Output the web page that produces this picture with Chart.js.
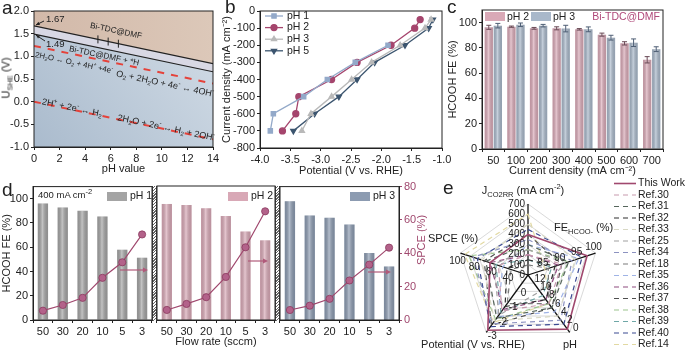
<!DOCTYPE html>
<html>
<head>
<meta charset="utf-8">
<script src="https://cdn.jsdelivr.net/npm/chart.js@4.4.1/dist/chart.umd.min.js"></script>
<style>
  body { margin: 0; width: 685px; height: 352px; position: relative; overflow: hidden; background: #fff;
         font-family: 'Liberation Sans', Arial, sans-serif; color: #222; }
  canvas { position: absolute; }
  .t { position: absolute; white-space: nowrap; font-size: 11px; line-height: 1; }
  .rot { transform: translate(-50%, -50%) rotate(-90deg); }
  .ctr { transform: translate(-50%, -50%); }
  .letter { position: absolute; font-size: 19px; line-height: 19px; }
  .hatch { position: absolute; box-sizing: border-box; border-left: 1px solid #333; border-right: 1px solid #333;
           background: repeating-linear-gradient(135deg, #fff 0 1px, #666 1px 2px); }
  sub, sup { font-size: 7.5px; line-height: 0; }
</style>
</head>
<body>
<canvas id="cA" width="225" height="178" style="left:0;top:0"></canvas>
<canvas id="cB" width="235" height="178" style="left:220px;top:0"></canvas>
<canvas id="cC" width="239" height="178" style="left:446px;top:0"></canvas>
<canvas id="cD1" width="157" height="174" style="left:0;top:178px"></canvas>
<canvas id="cD2" width="128" height="174" style="left:152px;top:178px"></canvas>
<canvas id="cD3" width="160" height="174" style="left:275px;top:178px"></canvas>
<canvas id="cE" width="270" height="176" style="left:415px;top:176px"></canvas>

<div class="hatch" style="left:152px;top:186px;width:5px;height:135px"></div>
<div class="hatch" style="left:275px;top:186px;width:5px;height:135px"></div>

<div class="letter" style="left:2px;top:-2px">a</div>
<div class="letter" style="left:225px;top:-3px">b</div>
<div class="letter" style="left:447px;top:-3px">c</div>
<div class="letter" style="left:2px;top:180px">d</div>
<div class="letter" style="left:443px;top:178px">e</div>

<div class="t rot" style="left:6px;top:78px">U<sub>SHE</sub> (V)</div>
<div class="t rot" style="left:421px;top:240px;color:#a0486e">SPCE (%)</div>
<div class="t" style="left:38px;top:190px;font-size:9.5px">400 mA cm<sup>-2</sup></div>

<div class="t ctr" style="left:523px;top:190px">J<sub>CO2RR</sub> (mA cm<sup>-2</sup>)</div>
<div class="t" style="left:554px;top:222px">FE<sub>HCOO-</sub> (%)</div>
<div class="t ctr" style="left:453px;top:238px">SPCE (%)</div>
<div class="t ctr" style="left:473px;top:344px">Potential (V vs. RHE)</div>
<div class="t ctr" style="left:570px;top:344px">pH</div>

<script>
// ---- panel a : Pourbaix lines (value at pH 0 and pH 14)
const phEnds = [0, 14];
const bareLine = [1.67, 0.84];
const hLine = [1.49, 0.66];
const oerLine = [1.23, 0.40];
const herLine = [0.00, -0.83];
const markPH = [5.0, 5.8, 6.6];

// ---- panel b : polarization curves
const jVals = [-700, -600, -500, -400, -300, -200, -100, -50];
const vPH1 = [-3.83, -3.78, -3.28, -2.89, -2.43, -1.89];
const vPH2 = [-3.63, -3.41, -3.36, -2.82, -2.40, -1.84, -1.45, -1.36];
const vPH3 = [-3.31, -3.16, -2.82, -2.49, -2.16, -1.69, -1.28, -1.18];
const vPH5 = [-3.45, -3.10, -2.70, -2.40, -2.11, -1.61, -1.22, -1.15];

// ---- panel c : FE vs current density
const jCats = ['50', '100', '200', '300', '400', '500', '600', '700'];
const fePH2 = [96.3, 96.8, 95.5, 95.5, 94.7, 90.5, 83.6, 70.6];
const fePH3 = [97.6, 98.3, 97.6, 95.3, 94.7, 88.1, 84.1, 79.0];
const errPH2 = [1.6, 0.5, 0.7, 1.2, 0.6, 1.2, 1.3, 2.5];
const errPH3 = [1.8, 1.4, 1.0, 2.6, 1.9, 1.9, 3.0, 1.9];

// ---- panel d : flow rate series
const flowRates = ['50', '30', '20', '10', '5', '3'];
const feFlow1 = [96.1, 92.8, 90.0, 85.4, 58.0, 51.4];
const feFlow2 = [95.3, 94.4, 91.7, 85.3, 72.6, 65.4];
const feFlow3 = [98.0, 86.2, 84.3, 78.7, 55.2, 44.2];
const spce1 = [5.6, 9.0, 13.3, 25.3, 34.6, 51.3];
const spce2 = [6.0, 9.6, 13.6, 25.7, 43.4, 64.9];
const spce3 = [6.0, 8.6, 12.7, 23.7, 33.2, 43.4];

// ---- panel e : radar (first entry = This Work)
const refNames = ['This Work', 'Ref.30', 'Ref.31', 'Ref.32', 'Ref.33', 'Ref.25', 'Ref.34', 'Ref.18',
                  'Ref.35', 'Ref.36', 'Ref.37', 'Ref.38', 'Ref.39', 'Ref.40', 'Ref.14'];
const refJ = [400, 200, 300, 150, 500, 250, 350, 100, 300, 200, 400, 250, 150, 450, 600];
const refFE = [97.5, 90, 92, 88, 94, 91, 93, 86, 95, 89, 90, 92, 87, 96, 85];
const refPH = [0.8, 7, 6, 8, 4, 10, 3, 7, 5, 8, 6, 7, 9, 2, 7];
const refE = [-2.85, -1.5, -2.0, -1.2, -2.2, -1.8, -2.4, -1.0, -1.9, -1.4, -2.5, -2.1, -1.6, -2.6, -2.3];
const refSPCE = [65, 55, 70, 45, 75, 60, 85, 40, 50, 65, 72, 90, 58, 80, 95];
const jTicks = [0, 100, 200, 300, 400, 500, 600, 700];
const feTicks = [85, 90, 95, 100];
const phTicks = [0, 2, 4, 6, 8, 10, 12];
const eTicks = [-3, -2, -1, 0];
const spceTicks = [100, 80, 60, 40];

const refColors = ['#a0486e', '#c89aae', '#56665c', '#2e2e2e', '#d8d8c4', '#a0a0a0', '#8c92c0', '#7a7a7a',
                   '#9fb3e6', '#8e4a7e', '#4e4e4e', '#9cc48e', '#6fa7a7', '#3b4a92', '#e2d9a2'];

Chart.defaults.font.family = "'Liberation Sans', Arial, sans-serif";
Chart.defaults.font.size = 11;
Chart.defaults.color = '#222';
Chart.defaults.animation = false;
Chart.defaults.plugins.legend.display = false;
Chart.defaults.plugins.tooltip.enabled = false;

const FONT = "'Liberation Sans', Arial, sans-serif";

// box around plot area
const framePlugin = {
  id: 'frame',
  afterDraw(chart) {
    const a = chart.chartArea, ctx = chart.ctx;
    ctx.save();
    ctx.strokeStyle = '#222';
    ctx.lineWidth = 1;
    ctx.strokeRect(a.left, a.top, a.right - a.left, a.bottom - a.top);
    ctx.restore();
  }
};

// cylinder-like shading on bars
const barShade = {
  id: 'barShade',
  afterDatasetDraw(chart, args) {
    if (args.meta.type !== 'bar') return;
    const ctx = chart.ctx;
    args.meta.data.forEach(b => {
      const l = b.x - b.width / 2, w = b.width;
      const g = ctx.createLinearGradient(l, 0, l + w, 0);
      g.addColorStop(0, 'rgba(0,0,0,0.10)');
      g.addColorStop(0.45, 'rgba(255,255,255,0.35)');
      g.addColorStop(1, 'rgba(0,0,0,0.12)');
      ctx.fillStyle = g;
      ctx.fillRect(l, b.y, w, b.base - b.y);
    });
  }
};

function axisX(extra) {
  return Object.assign({
    border: { color: '#222', width: 1 },
    grid: { drawOnChartArea: false, color: '#222', tickLength: 3 },
    ticks: { padding: 2, maxRotation: 0, autoSkip: false }
  }, extra);
}

function pts(xs, ys) {
  return xs.map((v, i) => ({ x: v, y: ys[i] }));
}

// text with _x subscripts and ^x superscripts, centred and rotated
function drawRich(ctx, str, cx, cy, ang, size) {
  const segs = [];
  for (let i = 0; i < str.length; i++) {
    const ch = str[i];
    if ((ch === '_' || ch === '^') && i + 1 < str.length) {
      segs.push({ t: str[i + 1], m: ch });
      i++;
    } else {
      segs.push({ t: ch, m: '' });
    }
  }
  const small = size * 0.68;
  let w = 0;
  segs.forEach(s => {
    ctx.font = (s.m ? small : size) + 'px ' + FONT;
    s.w = ctx.measureText(s.t).width;
    w += s.w;
  });
  ctx.save();
  ctx.translate(cx, cy);
  ctx.rotate(ang);
  ctx.textAlign = 'left';
  ctx.textBaseline = 'middle';
  let x = -w / 2;
  segs.forEach(s => {
    ctx.font = (s.m ? small : size) + 'px ' + FONT;
    const dy = s.m === '_' ? size * 0.3 : s.m === '^' ? -size * 0.35 : 0;
    ctx.fillText(s.t, x, dy);
    x += s.w;
  });
  ctx.restore();
}

// ================= panel a
const annA = {
  id: 'annA',
  beforeDatasetsDraw(chart) {
    const a = chart.chartArea, ctx = chart.ctx;
    const g = ctx.createLinearGradient(a.right, a.top, a.left, a.bottom);
    g.addColorStop(0, '#d3dde7');
    g.addColorStop(1, '#aabbcd');
    ctx.save();
    ctx.fillStyle = g;
    ctx.fillRect(a.left, a.top, a.right - a.left, a.bottom - a.top);
    ctx.restore();
  },
  afterDatasetsDraw(chart) {
    const ctx = chart.ctx, x = chart.scales.x, y = chart.scales.y;
    const ang = Math.atan2(y.getPixelForValue(bareLine[1]) - y.getPixelForValue(bareLine[0]),
                           x.getPixelForValue(phEnds[1]) - x.getPixelForValue(phEnds[0]));
    ctx.save();
    ctx.fillStyle = '#222';
    ctx.strokeStyle = '#222';
    drawRich(ctx, 'Bi-TDC@DMF', 116, 31, ang, 8.2);
    drawRich(ctx, 'Bi-TDC@DMF + *H', 104, 56, ang, 8.2);
    drawRich(ctx, '2H_2O \u2194 O_2 + 4H^+ +4e^-', 74, 63, ang, 7.8);
    drawRich(ctx, 'O_2 + 2H_2O + 4e^- \u2194 4OH^-', 165, 84, ang, 9);
    drawRich(ctx, '2H^+ + 2e^- \u2194 H_2', 72, 108, ang, 9);
    drawRich(ctx, '2H_2O + 2e^- \u2194 H_2 + 2OH^-', 166, 128, ang, 9);
    // small marks on the upper line
    ctx.lineWidth = 1;
    markPH.forEach(p => {
      const f = (p - phEnds[0]) / (phEnds[1] - phEnds[0]);
      const px = x.getPixelForValue(p);
      const py = y.getPixelForValue(bareLine[0] + f * (bareLine[1] - bareLine[0]));
      ctx.beginPath(); ctx.moveTo(px, py - 4); ctx.lineTo(px, py + 4); ctx.stroke();
    });
    // value labels with arrows
    ctx.font = '9.5px ' + FONT;
    ctx.textAlign = 'left';
    ctx.textBaseline = 'middle';
    ctx.fillText('1.67', 46, 19);
    ctx.fillText('1.49', 46, 44);
    const arrow = (x0, y0, x1, y1) => {
      ctx.beginPath(); ctx.moveTo(x0, y0); ctx.lineTo(x1, y1); ctx.stroke();
      const t = Math.atan2(y1 - y0, x1 - x0);
      ctx.beginPath();
      ctx.moveTo(x1, y1);
      ctx.lineTo(x1 - 4 * Math.cos(t - 0.45), y1 - 4 * Math.sin(t - 0.45));
      ctx.lineTo(x1 - 4 * Math.cos(t + 0.45), y1 - 4 * Math.sin(t + 0.45));
      ctx.closePath(); ctx.fill();
    };
    arrow(44, 21, 36, y.getPixelForValue(bareLine[0]) - 1);
    arrow(45, 41, 36, y.getPixelForValue(hLine[0]) + 1);
    ctx.restore();
  }
};

new Chart(document.getElementById('cA'), {
  type: 'line',
  data: {
    datasets: [
      { data: pts(phEnds, bareLine), borderColor: '#222', borderWidth: 1.2, fill: 'end',
        backgroundColor: (c) => {
          const a = c.chart.chartArea;
          if (!a) return '#d8c2b2';
          const g = c.chart.ctx.createLinearGradient(a.left, 0, a.right, 0);
          g.addColorStop(0, '#d2b9a9');
          g.addColorStop(1, '#dcc8b9');
          return g;
        } },
      { data: pts(phEnds, hLine), borderColor: '#222', borderWidth: 1.2, fill: '-1', backgroundColor: '#d8d8e4' },
      { data: pts(phEnds, oerLine), borderColor: '#e5423a', borderWidth: 2, borderDash: [7, 7], fill: false },
      { data: pts(phEnds, herLine), borderColor: '#e5423a', borderWidth: 2, borderDash: [7, 7], fill: false }
    ]
  },
  options: {
    responsive: false,
    layout: { padding: { top: 11, right: 12 } },
    elements: { point: { radius: 0 }, line: { tension: 0 } },
    scales: {
      x: axisX({ type: 'linear', min: 0, max: 14, ticks: { stepSize: 2, padding: 2 },
        title: { display: true, text: 'pH value', padding: { top: 0, bottom: 2 } },
        afterFit: s => { s.height = 31; } }),
      y: axisX({ min: -1, max: 2, ticks: { stepSize: 0.5, padding: 2, callback: v => v.toFixed(1) },
        afterFit: s => { s.width = 34; } })
    }
  },
  plugins: [annA, framePlugin]
});

// ================= panel b
const legendB = {
  id: 'legendB',
  afterDraw(chart) {
    const ctx = chart.ctx;
    chart.data.datasets.forEach((ds, i) => {
      const y = 16 + i * 11.6, x0 = 45, x1 = 63;
      ctx.save();
      ctx.strokeStyle = ds.borderColor;
      ctx.lineWidth = ds.borderWidth;
      ctx.beginPath(); ctx.moveTo(x0, y); ctx.lineTo(x1, y); ctx.stroke();
      ctx.fillStyle = ds.pointBackgroundColor;
      Chart.helpers.drawPoint(ctx, { pointStyle: ds.pointStyle, rotation: ds.pointRotation || 0,
        radius: ds.pointRadius, borderWidth: 1 }, (x0 + x1) / 2, y);
      ctx.fillStyle = '#222';
      ctx.font = '10.5px ' + FONT;
      ctx.textBaseline = 'middle';
      ctx.fillText(ds.label, x1 + 4, y);
      ctx.restore();
    });
  }
};

function curve(label, vals, color, style, rot) {
  return { label, data: pts(vals, jVals), borderColor: color, pointBackgroundColor: color,
           pointBorderColor: color, borderWidth: 1.3, pointStyle: style, pointRotation: rot || 0,
           pointRadius: 3, fill: false, tension: 0 };
}

new Chart(document.getElementById('cB'), {
  type: 'line',
  data: {
    datasets: [
      curve('pH 1', vPH1, '#93a9c9', 'rect'),
      curve('pH 2', vPH2, '#a5456d', 'circle'),
      curve('pH 3', vPH3, '#b9b9b9', 'triangle'),
      curve('pH 5', vPH5, '#3c556f', 'triangle', 180)
    ]
  },
  options: {
    responsive: false,
    layout: { padding: { top: 11, right: 13 } },
    scales: {
      x: axisX({ type: 'linear', min: -4, max: -1, ticks: { stepSize: 0.5, padding: 2, callback: v => v.toFixed(1) },
        title: { display: true, text: 'Potential (V vs. RHE)', padding: { top: 0, bottom: 0 } },
        afterFit: s => { s.height = 30; } }),
      y: axisX({ min: -800, max: 0, ticks: { stepSize: 100, padding: 2 },
        title: { display: true, text: 'Current density (mA cm\u207B\u00B2)', padding: { top: 0, bottom: 2 } },
        afterFit: s => { s.width = 40; } })
    }
  },
  plugins: [framePlugin, legendB]
});

// ================= panel c
const errC = {
  id: 'errC',
  afterDatasetsDraw(chart) {
    const ctx = chart.ctx, y = chart.scales.y;
    const errs = [errPH2, errPH3];
    ctx.save();
    ctx.lineWidth = 1;
    chart.data.datasets.forEach((ds, i) => {
      ctx.strokeStyle = i === 0 ? '#6a4a56' : '#4e5e74';
      chart.getDatasetMeta(i).data.forEach((b, j) => {
        const top = y.getPixelForValue(ds.data[j] + errs[i][j]);
        const bot = y.getPixelForValue(ds.data[j] - errs[i][j]);
        ctx.beginPath();
        ctx.moveTo(b.x, top); ctx.lineTo(b.x, bot);
        ctx.moveTo(b.x - 2.5, top); ctx.lineTo(b.x + 2.5, top);
        ctx.moveTo(b.x - 2.5, bot); ctx.lineTo(b.x + 2.5, bot);
        ctx.stroke();
      });
    });
    // legend
    ctx.font = '10.5px ' + FONT;
    ctx.textBaseline = 'middle';
    [[39, 0], [85, 1]].forEach(([lx, i]) => {
      ctx.fillStyle = chart.data.datasets[i].backgroundColor;
      ctx.fillRect(lx, 12, 20, 9);
      ctx.fillStyle = '#222';
      ctx.fillText(chart.data.datasets[i].label, lx + 22, 17);
    });
    ctx.fillStyle = '#b04a7a';
    ctx.textAlign = 'right';
    ctx.fillText('Bi-TDC@DMF', 214, 17);
    ctx.restore();
  }
};

new Chart(document.getElementById('cC'), {
  type: 'bar',
  data: {
    labels: jCats,
    datasets: [
      { label: 'pH 2', data: fePH2, backgroundColor: '#d9a9b7', categoryPercentage: 0.8, barPercentage: 0.92 },
      { label: 'pH 3', data: fePH3, backgroundColor: '#a9b8ca', categoryPercentage: 0.8, barPercentage: 0.92 }
    ]
  },
  options: {
    responsive: false,
    layout: { padding: { top: 10, right: 22 } },
    scales: {
      x: axisX({ title: { display: true, text: 'Current density (mA cm\u207B\u00B2)', padding: { top: 0, bottom: 0 } },
        afterFit: s => { s.height = 29; } }),
      y: axisX({ min: 0, max: 110, ticks: { stepSize: 20, padding: 2 },
        afterBuildTicks: s => { s.ticks = s.ticks.filter(t => t.value <= 100); },
        title: { display: true, text: 'HCOOH FE (%)', padding: { top: 0, bottom: 4 } },
        afterFit: s => { s.width = 36; } })
    }
  },
  plugins: [barShade, errC, framePlugin]
});

// ================= panel d
function makeFlow(id, fe, spce, color, label, cfg) {
  const notes = {
    id: 'notes' + id,
    afterDraw(chart) {
      const ctx = chart.ctx;
      ctx.save();
      ctx.font = '10.5px ' + FONT;
      ctx.textBaseline = 'middle';
      ctx.fillStyle = color;
      ctx.fillRect(cfg.legX, 14, 20, 9);
      ctx.fillStyle = '#222';
      ctx.fillText(label, cfg.legX + 23, 18.5);
      // arrow pointing to right axis
      const [ax0, ax1, ay] = cfg.arrow;
      ctx.strokeStyle = '#b05a7a';
      ctx.fillStyle = '#b05a7a';
      ctx.lineWidth = 1.2;
      ctx.beginPath(); ctx.moveTo(ax0, ay); ctx.lineTo(ax1 - 4, ay); ctx.stroke();
      ctx.beginPath(); ctx.moveTo(ax1, ay); ctx.lineTo(ax1 - 5, ay - 2.5); ctx.lineTo(ax1 - 5, ay + 2.5);
      ctx.closePath(); ctx.fill();
      ctx.restore();
    }
  };
  return new Chart(document.getElementById(id), {
    type: 'bar',
    data: {
      labels: flowRates,
      datasets: [
        { type: 'bar', data: fe, backgroundColor: color, yAxisID: 'y', order: 2,
          categoryPercentage: 1, barPercentage: 0.52 },
        { type: 'line', data: spce, yAxisID: 'y1', order: 1, borderColor: '#a0486e', borderWidth: 1.2,
          pointRadius: 3.6, pointBackgroundColor: '#b3628a', pointBorderColor: '#8a3a5e', pointBorderWidth: 0.8,
          tension: 0, fill: false }
      ]
    },
    options: {
      responsive: false,
      layout: { padding: cfg.padding },
      scales: {
        x: axisX({ title: { display: !!cfg.xTitle, text: cfg.xTitle || '', padding: { top: 0, bottom: 3 } },
          afterFit: s => { s.height = 32; } }),
        y: axisX({ display: cfg.left, min: 0, max: 110, position: 'left', ticks: { stepSize: 20, padding: 2 },
          afterBuildTicks: s => { s.ticks = s.ticks.filter(t => t.value <= 100); },
          title: { display: true, text: 'HCOOH FE (%)', padding: { top: 0, bottom: 4 } },
          afterFit: s => { s.width = cfg.left ? 33 : 0; } }),
        y1: axisX({ display: cfg.right, min: 0, max: 80, position: 'right',
          border: { color: '#222', width: 1 },
          grid: { drawOnChartArea: false, color: '#a0486e', tickLength: 3 },
          ticks: { stepSize: 20, padding: 2, color: '#a0486e' },
          afterFit: s => { s.width = cfg.right ? 36 : 0; } })
      }
    },
    plugins: [barShade, framePlugin, notes]
  });
}

makeFlow('cD1', feFlow1, spce1, '#a4a4a4', 'pH 1',
  { left: true, right: false, padding: { top: 8, right: 5 }, legX: 107, arrow: [120, 148, 92] });
makeFlow('cD2', feFlow2, spce2, '#d8a8b6', 'pH 2',
  { left: false, right: false, padding: { top: 8, left: 5, right: 5 }, legX: 76, arrow: [96, 116, 83],
    xTitle: 'Flow rate (sccm)' });
makeFlow('cD3', feFlow3, spce3, '#8c9bb1', 'pH 3',
  { left: false, right: true, padding: { top: 8, left: 5 }, legX: 75, arrow: [93, 116, 94] });

// ================= panel e
const toR = [
  v => v / 700 * 7,
  v => (v - 80) / 20 * 7,
  v => (14 - v) / 14 * 7,
  v => (1 - v) / 4 * 7,
  v => (v - 20) / 80 * 7
];

const radarTicks = {
  id: 'radarTicks',
  afterDraw(chart) {
    const r = chart.scales.r, ctx = chart.ctx;
    ctx.save();
    ctx.fillStyle = '#222';
    ctx.font = '10px ' + FONT;
    ctx.textBaseline = 'middle';
    const sets = [
      [0, jTicks, -3, 0, 'right'],
      [1, feTicks, -2, -6, 'center'],
      [2, phTicks, 6, -4, 'center'],
      [3, eTicks, 6, 4, 'center'],
      [4, spceTicks, -3, 8.5, 'center']
    ];
    sets.forEach(([idx, ticks, dx, dy, align]) => {
      ctx.textAlign = align;
      ticks.forEach(t => {
        const p = r.getPointPositionForValue(idx, toR[idx](t));
        ctx.fillText(String(t), p.x + dx, p.y + dy);
      });
    });
    // legend
    chart.data.datasets.forEach((ds, i) => {
      const y = 7.5 + i * 11.5;
      ctx.strokeStyle = ds.borderColor;
      ctx.lineWidth = ds.borderWidth;
      ctx.setLineDash(ds.borderDash || []);
      ctx.beginPath(); ctx.moveTo(199, y); ctx.lineTo(221, y); ctx.stroke();
      ctx.setLineDash([]);
      ctx.fillStyle = '#222';
      ctx.font = '10.5px ' + FONT;
      ctx.textAlign = 'left';
      ctx.fillText(ds.label, 223, y);
    });
    ctx.restore();
  }
};

new Chart(document.getElementById('cE'), {
  type: 'radar',
  data: {
    labels: ['J', 'FE', 'pH', 'E', 'SPCE'],
    datasets: refNames.map((name, i) => ({
      label: name,
      data: [toR[0](refJ[i]), toR[1](refFE[i]), toR[2](refPH[i]), toR[3](refE[i]), toR[4](refSPCE[i])],
      borderColor: refColors[i],
      borderWidth: i === 0 ? 1.6 : 1.2,
      borderDash: i === 0 ? [] : [5, 4],
      fill: false,
      pointRadius: 0,
      order: i === 0 ? 0 : 1
    }))
  },
  options: {
    responsive: false,
    layout: { padding: { left: 42, top: 27, right: 86, bottom: 5 } },
    elements: { line: { tension: 0 } },
    scales: {
      r: {
        min: 0, max: 7,
        ticks: { display: false, stepSize: 1 },
        pointLabels: { display: false },
        grid: { color: '#cfcfcf', lineWidth: 0.8 },
        angleLines: { color: '#111', lineWidth: 1.3 }
      }
    }
  },
  plugins: [radarTicks]
});
</script>
</body>
</html>
